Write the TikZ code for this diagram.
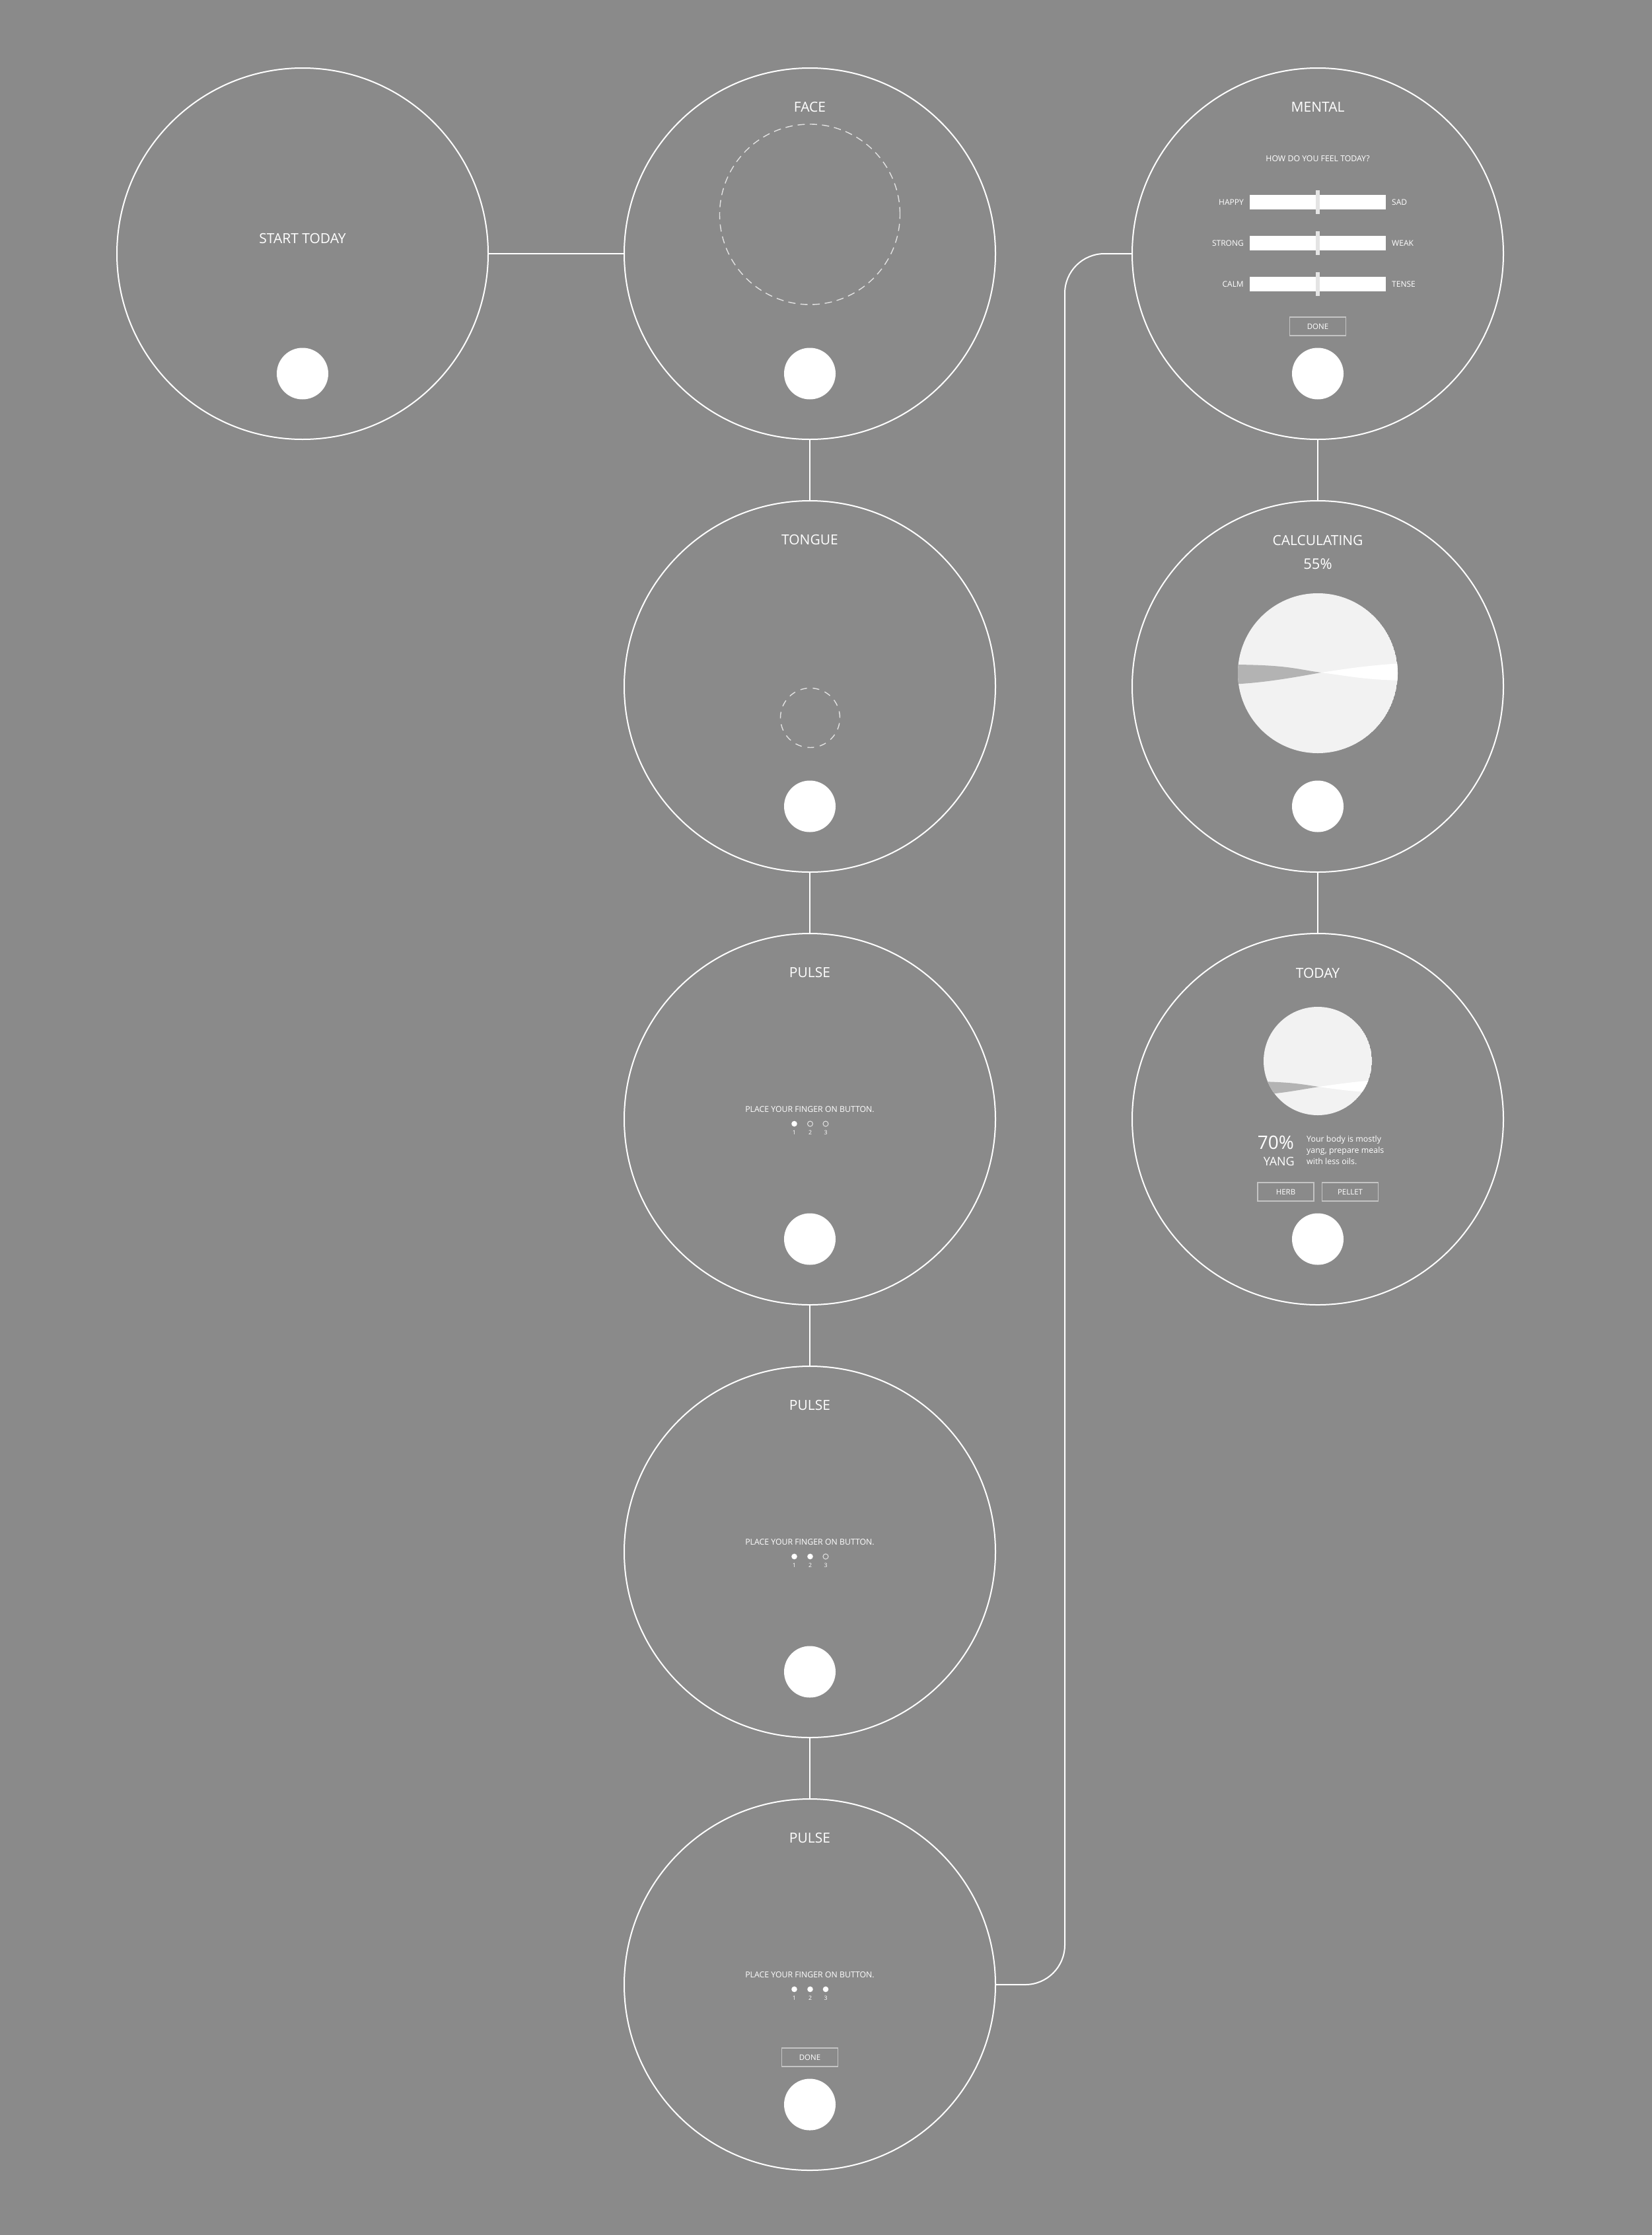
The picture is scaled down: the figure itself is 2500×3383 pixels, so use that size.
\documentclass[tikz,border=0pt]{standalone}
\usepackage{fontspec}
\setmainfont{Open Sans}
\definecolor{bg}{HTML}{8A8A8A}
\definecolor{piefill}{HTML}{F2F2F2}
\definecolor{bandgray}{HTML}{B3B3B3}
\definecolor{boxgray}{HTML}{C4C4C4}
\definecolor{dashgray}{HTML}{E2E2E2}
\definecolor{knobgray}{HTML}{E4E4E4}
\begin{document}
\begin{tikzpicture}[x=1pt,y=-1pt,
  screen/.style={circle, draw=white, line width=2pt, minimum size=562pt, inner sep=0pt},
  btn/.style={circle, fill=white, minimum size=78pt, inner sep=0pt},
  conn/.style={draw=white, line width=2pt},
  title/.style={text=white, inner sep=0pt, font=\fontsize{21}{25}\selectfont},
  small/.style={text=white, inner sep=0pt, font=\fontsize{12.3}{15}\selectfont},
  label/.style={text=white, inner sep=0pt, font=\fontsize{12}{14}\selectfont},
  btnbox/.style={draw=boxgray, line width=1.3pt, minimum width=85pt, minimum height=28pt, inner sep=0pt, text=white, font=\fontsize{11.5}{13}\selectfont},
  dotfull/.style={circle, fill=white, minimum size=8.6pt, inner sep=0pt},
  dotopen/.style={circle, draw=dashgray, line width=1pt, minimum size=8pt, inner sep=0pt},
  num/.style={text=white, inner sep=0pt, font=\fontsize{8.8}{10}\selectfont},
  dashcirc/.style={circle, draw=dashgray, line width=1.4pt, dash pattern=on 11pt off 7.5pt, inner sep=0pt},
  bar/.style={fill=white, minimum width=206pt, minimum height=22pt, inner sep=0pt},
  knob/.style={fill=knobgray, minimum width=6pt, minimum height=36pt, inner sep=0pt},
  para/.style={text=white, inner sep=0pt, font=\fontsize{12.4}{17}\selectfont}
]
\useasboundingbox (0,0) rectangle (2500,3383);
\fill[bg] (-10,-10) rectangle (2510,3393);

% screens
\node[screen] (S)  at (458,384) {};
\node[screen] (F)  at (1226,384) {};
\node[screen] (M)  at (1995,384) {};
\node[screen] (T)  at (1226,1039) {};
\node[screen] (C)  at (1995,1039) {};
\node[screen] (P1) at (1226,1694) {};
\node[screen] (D)  at (1995,1694) {};
\node[screen] (P2) at (1226,2349) {};
\node[screen] (P3) at (1226,3004) {};

% connectors
\draw[conn] (S.east) -- (F.west);
\draw[conn] (F.south) -- (T.north);
\draw[conn] (T.south) -- (P1.north);
\draw[conn] (P1.south) -- (P2.north);
\draw[conn] (P2.south) -- (P3.north);
\draw[conn] (M.south) -- (C.north);
\draw[conn] (C.south) -- (D.north);
\coordinate (rail) at (1612,384);
\draw[conn, rounded corners=60pt] (P3.east) -| (rail) -- (M.west);

% buttons
\node[btn] (bS)  at (458,565.5) {};
\node[btn] (bF)  at (1226,565.5) {};
\node[btn] (bM)  at (1995,565.5) {};
\node[btn] (bT)  at (1226,1220.5) {};
\node[btn] (bC)  at (1995,1220.5) {};
\node[btn] (bP1) at (1226,1875.5) {};
\node[btn] (bD)  at (1995,1875.5) {};
\node[btn] (bP2) at (1226,2530.5) {};
\node[btn] (bP3) at (1226,3185.5) {};

% START
\node[title] (tS) at (458,361) {START TODAY};

% FACE
\node[title] (tF) at (1226,162) {FACE};
\node[dashcirc, minimum size=273pt] (facecam) at (1226,324.5) {};

% TONGUE
\node[title] (tT) at (1226,817) {TONGUE};
\node[dashcirc, minimum size=90pt, dash pattern=on 10pt off 8.9pt] (tonguecam) at (1226.5,1086.5) {};

% PULSE 1
\node[title] (tP1) at (1226,1472) {PULSE};
\node[small] (iP1) at (1226,1679) {PLACE YOUR FINGER ON BUTTON.};
\node[dotfull] (d11) at (1202.5,1701) {};
\node[dotopen] (d12) at (1226.5,1701) {};
\node[dotopen] (d13) at (1250,1701) {};
\node[num] (n11) at (1202.5,1714) {1};
\node[num] (n12) at (1226.5,1714) {2};
\node[num] (n13) at (1250,1714) {3};

% PULSE 2
\node[title] (tP2) at (1226,2127) {PULSE};
\node[small] (iP2) at (1226,2334) {PLACE YOUR FINGER ON BUTTON.};
\node[dotfull] (d21) at (1202.5,2356) {};
\node[dotfull] (d22) at (1226.5,2356) {};
\node[dotopen] (d23) at (1250,2356) {};
\node[num] (n21) at (1202.5,2369) {1};
\node[num] (n22) at (1226.5,2369) {2};
\node[num] (n23) at (1250,2369) {3};

% PULSE 3
\node[title] (tP3) at (1226,2782) {PULSE};
\node[small] (iP3) at (1226,2989) {PLACE YOUR FINGER ON BUTTON.};
\node[dotfull] (d31) at (1202.5,3011) {};
\node[dotfull] (d32) at (1226.5,3011) {};
\node[dotfull] (d33) at (1250,3011) {};
\node[num] (n31) at (1202.5,3024) {1};
\node[num] (n32) at (1226.5,3024) {2};
\node[num] (n33) at (1250,3024) {3};
\node[btnbox] (doneP) at (1226,3114) {DONE};

% MENTAL
\node[title] (tM) at (1995,162) {MENTAL};
\node[small] (qM) at (1995,240) {HOW DO YOU FEEL TODAY?};
\node[bar] (bar1) at (1995,306) {};
\node[bar] (bar2) at (1995,368) {};
\node[bar] (bar3) at (1995,430) {};
\node[knob] (k1) at (1995,306) {};
\node[knob] (k2) at (1995,368) {};
\node[knob] (k3) at (1995,430) {};
\node[label, anchor=east] (lh) at (1883,306) {HAPPY};
\node[label, anchor=west] (rs) at (2107,306) {SAD};
\node[label, anchor=east] (ls) at (1883,368) {STRONG};
\node[label, anchor=west] (rw) at (2107,368) {WEAK};
\node[label, anchor=east] (lc) at (1883,430) {CALM};
\node[label, anchor=west] (rt) at (2107,430) {TENSE};
\node[btnbox] (doneM) at (1995,494) {DONE};

% CALCULATING
\node[title] (tC) at (1995,818) {CALCULATING};
\node[title, font=\fontsize{22}{26}\selectfont] (pC) at (1995,854) {55\%};
\begin{scope}
  \clip (1995,1019) circle[radius=121];
  \fill[piefill] (1995,1019) circle[radius=121];
  \fill[bandgray] (1860,1006) .. controls (1950,1006) and (1962,1013) .. (2000,1018)
                  .. controls (1950,1027) and (1910,1034) .. (1860,1036) -- cycle;
  \fill[white] (2000,1018) .. controls (2040,1023) and (2070,1030) .. (2135,1030)
               -- (2135,1003) .. controls (2070,1007) and (2040,1012) .. (2000,1018) -- cycle;
\end{scope}

% TODAY
\node[title] (tD) at (1995,1473) {TODAY};
\begin{scope}
  \clip (1995,1606) circle[radius=82];
  \fill[piefill] (1995,1606) circle[radius=82];
  \fill[bandgray] (1905,1637) .. controls (1960,1638) and (1975,1642) .. (1996.6,1645)
                  .. controls (1965,1650) and (1935,1656) .. (1905,1657) -- cycle;
  \fill[white] (1996.6,1645) .. controls (2025,1649) and (2050,1653) .. (2085,1653)
               -- (2085,1635) .. controls (2050,1637) and (2025,1641) .. (1996.6,1645) -- cycle;
\end{scope}
\node[text=white, inner sep=0pt, anchor=base east, font=\fontsize{28}{32}\selectfont] (pct) at (1959,1739.5) {70\%};
\node[text=white, inner sep=0pt, anchor=base east, font=\fontsize{18}{22}\selectfont] (yang) at (1960,1764.3) {YANG};
\node[para, anchor=base west] (p1) at (1978,1728.4) {Your body is mostly};
\node[para, anchor=base west] (p2) at (1978,1745.4) {yang, prepare meals};
\node[para, anchor=base west] (p3) at (1978,1762.4) {with less oils.};
\node[btnbox] (herb) at (1946.5,1804) {HERB};
\node[btnbox] (pellet) at (2044,1804) {PELLET};
\end{tikzpicture}
\end{document}
